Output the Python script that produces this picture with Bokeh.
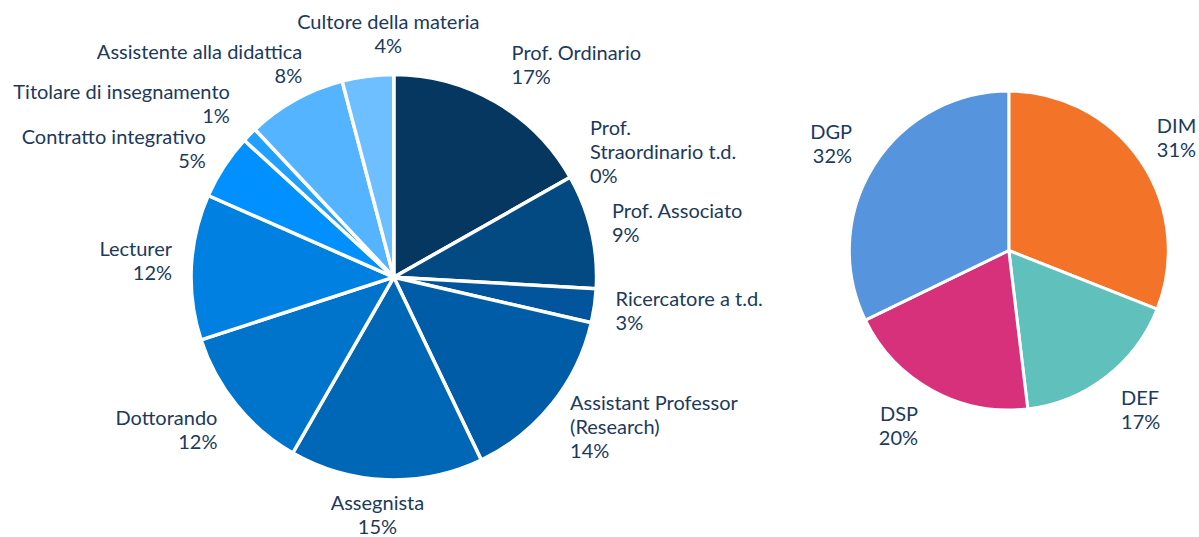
import math
from bokeh.plotting import figure
from bokeh.models import Range1d, ColumnDataSource
from bokeh.core.properties import value
from bokeh.embed import file_html
from bokeh.resources import INLINE

# ---- data ----
roles = ["Prof. Ordinario", "Prof.\nStraordinario t.d.", "Prof. Associato",
         "Ricercatore a t.d.", "Assistant Professor\n(Research)", "Assegnista",
         "Dottorando", "Lecturer", "Contratto integrativo",
         "Titolare di insegnamento", "Assistente alla didattica",
         "Cultore della materia"]
role_share = [16.8, 0.0, 9.1, 2.7, 14.3, 15.4, 11.7, 11.6, 5.2, 1.2, 7.9, 4.1]
role_colors = ["#053761", "#04427A", "#034A82", "#02559C", "#005CA7", "#0067B7",
               "#0073CB", "#0081E2", "#0090FF", "#22A0FF", "#55B4FF", "#6DBFFF"]

depts = ["DIM", "DEF", "DSP", "DGP"]
dept_share = [31.0, 17.1, 19.7, 32.2]
dept_colors = ["#F37329", "#5FC0BC", "#D6317A", "#5794DE"]

# ---- label layout tweaks (screen px: right, down) ----
role_nudge = [(6, -2), (3, 0), (2, 0), (2, -2), (3, -12), (-8, -8),
              (-4, -3), (0, -5), (-2, 5), (-6, -2), (16, 0), (23, -1)]
dept_nudge = [(0, 0), (3, -1), (-5, -3), (-5, 0)]

TEXT_COLOR = "#1B3A5C"
FONT = "Lato"

W, H = 1199, 537
p = figure(width=W, height=H, x_range=Range1d(0, W), y_range=Range1d(0, H),
           x_axis_type=None, y_axis_type=None, toolbar_location=None,
           output_backend="svg", min_border=0)
p.outline_line_color = None
p.grid.visible = False


def draw_pie(cx, cy, r, labels, shares, colors, nudges, gap, label_off, line_px, fsize):
    total = sum(shares)
    cum = 0.0
    wx, wy, ws, we, wc = [], [], [], [], []
    tx, ty, tt, ta = [], [], [], []
    for lab, v, col, (ndx, ndy) in zip(labels, shares, colors, nudges):
        f0 = cum / total
        f1 = (cum + v) / total
        cum += v
        if v > 0:
            wx.append(cx); wy.append(cy)
            ws.append(math.pi / 2 - f1 * 2 * math.pi)
            we.append(math.pi / 2 - f0 * 2 * math.pi)
            wc.append(col)
        th = (f0 + f1) / 2 * 2 * math.pi
        s, c = math.sin(th), math.cos(th)
        R = r + label_off
        ax, ay = cx + R * s, cy + R * c
        txt = f"{lab}\n{round(v)}%"
        n = txt.count("\n") + 1
        h = n * line_px
        if s > 0.3:
            align = "left"
        elif s < -0.3:
            align = "right"
        else:
            align = "center"
        tx.append(ax + ndx); ty.append(ay + c * h / 2 - ndy)
        tt.append(txt); ta.append(align)
    src = ColumnDataSource(dict(x=wx, y=wy, s=ws, e=we, c=wc))
    p.wedge(x="x", y="y", radius=r + gap / 2, radius_units="screen",
            start_angle="s", end_angle="e", fill_color="c",
            line_color="white", line_width=gap, source=src)
    tsrc = ColumnDataSource(dict(x=tx, y=ty, t=tt, a=ta))
    p.text(x="x", y="y", text="t", text_align="a", text_baseline="middle",
           text_font=value(FONT), text_font_size=f"{fsize}px",
           text_color=TEXT_COLOR, text_line_height=1.0, source=tsrc)


draw_pie(393.3, H - 276.7, 201, roles, role_share, role_colors, role_nudge,
         gap=3.5, label_off=21, line_px=23, fsize=20)
draw_pie(1008.3, H - 250.0, 158, depts, dept_share, dept_colors, dept_nudge,
         gap=3, label_off=21, line_px=23, fsize=20)

open("out.html", "w").write(file_html(p, INLINE))
